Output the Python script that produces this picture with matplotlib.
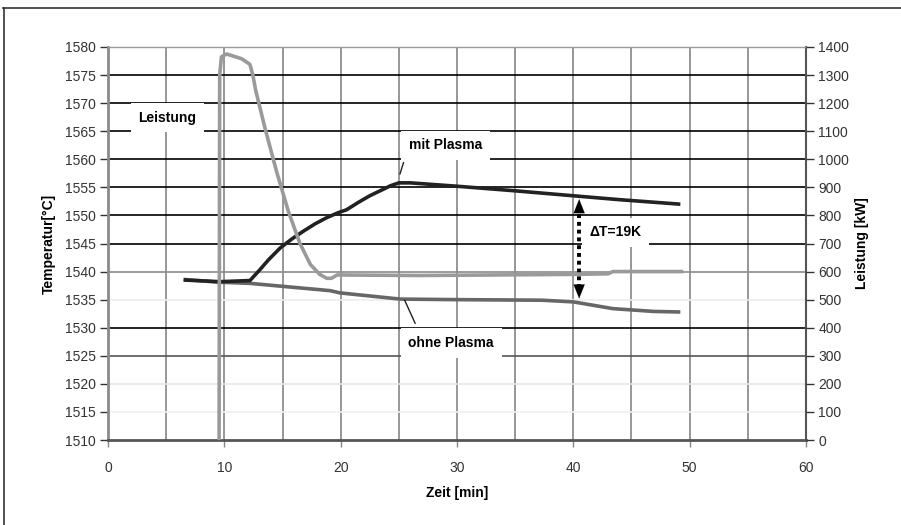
import matplotlib
matplotlib.use("Agg")
import matplotlib.pyplot as plt
from matplotlib.lines import Line2D

# ---------------- data ----------------
leistung_t = [9.55, 9.6, 9.75, 10.2, 11.5, 12.2, 12.45, 12.7, 13.5, 14.5, 15.5, 16.5, 17.4, 18.2, 18.8, 19.2, 19.7, 26.8, 40.0, 43.0, 43.4, 49.3]
leistung_kw = [0, 1300, 1365, 1375, 1358, 1338, 1300, 1245, 1110, 955, 815, 700, 625, 590, 576, 576, 588, 586, 590, 592, 600, 600]

mit_t = [6.5, 9.6, 12.2, 13.0, 13.8, 14.8, 15.8, 16.8, 17.8, 18.8, 19.8, 20.5, 21.5, 22.5, 23.5, 24.3, 25.0, 26.0, 30.0, 34.9, 40.0, 44.0, 49.2]
mit_T = [1538.5, 1538.2, 1538.4, 1540.2, 1542.1, 1544.2, 1545.8, 1547.2, 1548.5, 1549.6, 1550.5, 1551.0, 1552.3, 1553.5, 1554.5, 1555.3, 1555.8, 1555.8, 1555.2, 1554.4, 1553.5, 1552.8, 1552.0]

ohne_t = [6.5, 9.6, 12.2, 19.1, 19.95, 25.1, 30.0, 37.3, 40.0, 43.4, 46.9, 49.2]
ohne_T = [1538.6, 1538.1, 1537.9, 1536.6, 1536.2, 1535.1, 1535.0, 1534.9, 1534.6, 1533.4, 1532.9, 1532.8]

temp_ticks = list(range(1510, 1581, 5))
kw_ticks = list(range(0, 1401, 100))
time_ticks = list(range(0, 61, 10))
delta_label = "ΔT=19K"

# ---------------- figure ----------------
plt.rcParams['font.family'] = ['Liberation Sans', 'DejaVu Sans']
fig = plt.figure(figsize=(9.01, 5.25), dpi=100)
W, H = 901, 525
ax = fig.add_axes([108 / W, 1 - 440 / H, (806 - 108) / W, (440 - 47) / H])
ax.set_xlim(0, 60)
ax.set_ylim(1510, 1580)

# frame around figure (left and top visible)
fig.add_artist(Line2D([3.5 / W, 3.5 / W], [0, 1 - 8 / H], transform=fig.transFigure, color='#333333', lw=1.2))
fig.add_artist(Line2D([3 / W, 1], [1 - 8 / H, 1 - 8 / H], transform=fig.transFigure, color='#333333', lw=1.2))

# vertical grid
for x in range(5, 60, 5):
    ax.axvline(x, color='#7a7a7a', lw=1.1, zorder=1)
# horizontal grid (scan shows varying darkness)
hcol = {1515: '#f0f0f0', 1520: '#e6e6e6', 1525: '#555555', 1530: '#000000', 1535: '#eeeeee',
        1540: '#8a8a8a', 1545: '#000000', 1550: '#000000', 1555: '#000000', 1560: '#000000',
        1565: '#000000', 1570: '#000000', 1575: '#000000'}
for y, c in hcol.items():
    ax.axhline(y, color=c, lw=1.2, zorder=1)

ax.set_xticks(time_ticks)
ax.set_yticks(temp_ticks)
ax.tick_params(axis='x', direction='out', length=5, width=1, color='#888888', labelsize=10,
               labelcolor='#333333', pad=10)
ax.tick_params(axis='y', direction='out', length=6, width=1, color='#333333', labelsize=10,
               labelcolor='#333333', pad=3)
for side, c, lw in [('left', '#8a8a8a', 2.0), ('bottom', '#555555', 2.0), ('top', '#9a9a9a', 1.0), ('right', '#555555', 1.5)]:
    ax.spines[side].set_color(c)
    ax.spines[side].set_linewidth(lw)

ax2 = ax.twinx()
ax2.set_ylim(0, 1400)
ax2.set_yticks(kw_ticks)
ax2.tick_params(axis='y', direction='out', length=6, width=1, color='#333333', labelsize=10,
                labelcolor='#333333', pad=3)
for s in ax2.spines.values():
    s.set_visible(False)

# data lines
ax.plot(ohne_t, ohne_T, color='#676767', lw=2.6, zorder=3, solid_capstyle='butt')
ax.plot(mit_t, mit_T, color='#222222', lw=2.6, zorder=4, solid_capstyle='butt', solid_joinstyle='round')
ax2.plot(leistung_t, leistung_kw, color='#9a9a9a', lw=2.6, zorder=2, solid_joinstyle='round')

# labels
ax.set_xlabel('Zeit [min]', fontsize=10, fontweight='bold', labelpad=8)
ax.set_ylabel('Temperatur[°C]', fontsize=10, fontweight='bold', labelpad=6)
ax2.set_ylabel('Leistung [kW]', fontsize=10, fontweight='bold', labelpad=4, rotation=90)

box = dict(boxstyle='square,pad=0.55', facecolor='white', edgecolor='none')
ax.text(5.1, 1567.4, 'Leistung', ha='center', va='center', fontsize=10, fontweight='bold', bbox=box, zorder=5)
ax.text(29.0, 1562.5, 'mit Plasma', ha='center', va='center', fontsize=10, fontweight='bold', bbox=box, zorder=5)
ax.text(43.6, 1547.0, delta_label, ha='center', va='center', fontsize=10, fontweight='bold', bbox=box, zorder=5)
ax.text(29.5, 1527.3, 'ohne Plasma', ha='center', va='center', fontsize=10, fontweight='bold', bbox=box, zorder=5)

# leader lines
ax.plot([25.4, 25.1], [1559.4, 1557.4], color='#222222', lw=1.0, zorder=5)
ax.plot([25.5, 26.4], [1534.9, 1530.8], color='#222222', lw=1.0, zorder=5)

# delta T arrow
x_arr = 40.5
ax.plot([x_arr, x_arr], [1537.0, 1551.0], color='black', lw=2.8, ls=(0, (1, 1)), zorder=6)
ax.annotate('', xy=(x_arr, mit_T[20] - 0.1), xytext=(x_arr, 1550.5),
            arrowprops=dict(arrowstyle='-|>,head_length=1.0,head_width=0.4', color='black', lw=0.1), zorder=6)
ax.annotate('', xy=(x_arr, ohne_T[8] + 0.1), xytext=(x_arr, 1537.5),
            arrowprops=dict(arrowstyle='-|>,head_length=1.0,head_width=0.4', color='black', lw=0.1), zorder=6)

fig.savefig('out.png', dpi=100)
